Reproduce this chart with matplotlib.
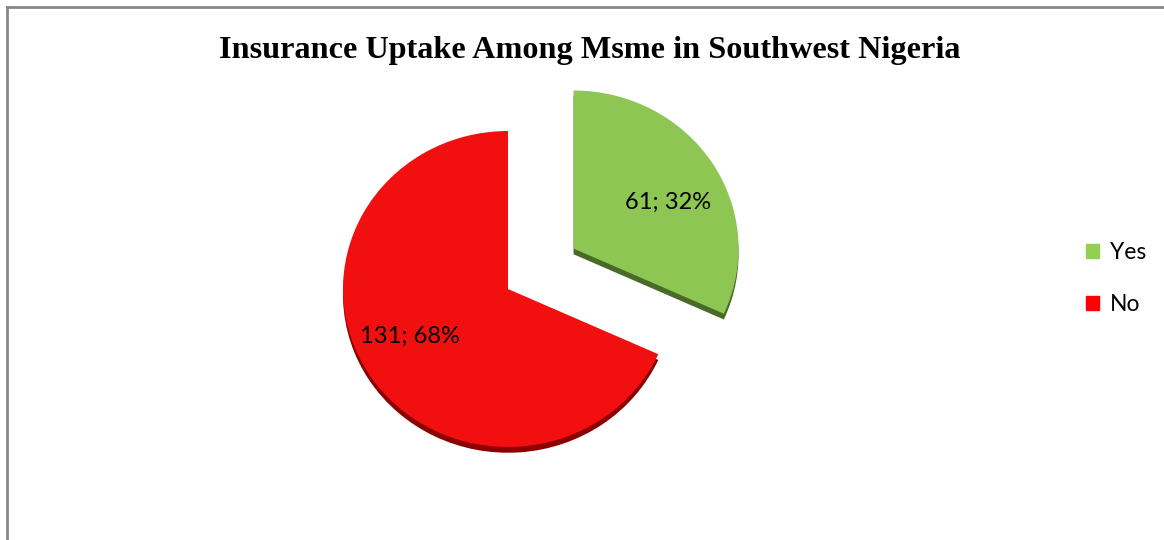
import matplotlib
matplotlib.use("Agg")
import matplotlib.pyplot as plt
from matplotlib.patches import Patch
from matplotlib.lines import Line2D

# data
labels = ["Yes", "No"]
counts = [61, 131]
colors = ["#8DC653", "#F20F0F"]
edge_colors = ["#4A6B28", "#8B0000"]
legend_colors = ["#92D050", "#FF0000"]
title = "Insurance Uptake Among Msme in Southwest Nigeria"

total = sum(counts)

def fmt(pct):
    n = int(round(pct * total / 100.0))
    return f"{n}; {pct:.0f}%"

fig = plt.figure(figsize=(11.64, 5.40), dpi=100)
ax = fig.add_axes([0, 0, 1, 1])
ax.axis("off")

# slight tilt like excel's 3d pie: a bit wider than tall
squash = 158 / 165
cx, cy, r = 508, (540 - 289) / squash, 165
explode = [78, 0]   # axis units

# darker copy shifted down for the 3d rim
ax.pie(counts, colors=edge_colors, startangle=90, counterclock=False,
       explode=explode, radius=r, center=(cx, cy - 6), frame=False,
       wedgeprops=dict(linewidth=0))
_, _, autotexts = ax.pie(counts, colors=colors, startangle=90, counterclock=False,
                         explode=explode, radius=r, center=(cx, cy), frame=False,
                         autopct=fmt, pctdistance=0.64,
                         textprops=dict(fontsize=17, family="Lato", color="black"),
                         wedgeprops=dict(linewidth=0))
# small nudges so the labels sit where Excel put them
nudges = [(6, -9), (-9, 8)]
for t, (dx, dy) in zip(autotexts, nudges):
    x, y = t.get_position()
    t.set_position((x + dx, y + dy))

ax.set_aspect("auto")
ax.set_xlim(0, 1164)
ax.set_ylim(0, 540 / squash)
ax.axis("off")

fig.text(0.507, 0.907, title, ha="center", va="center",
         fontsize=23.2, fontweight="bold", family="Liberation Serif")

handles = [Patch(color=c, label=l) for c, l in zip(legend_colors, labels)]
fig.legend(handles=handles, loc="center left", bbox_to_anchor=(0.915, 0.484),
           frameon=False, handlelength=0.6, handleheight=0.6,
           handletextpad=0.45, labelspacing=1.35,
           prop=dict(family="Lato", size=16.5))

# chart border (left and top visible)
fig.add_artist(Line2D([7/1164, 7/1164], [0, 1 - 7/540], color="#888888", lw=2))
fig.add_artist(Line2D([7/1164, 1], [1 - 7/540, 1 - 7/540], color="#888888", lw=2))

fig.savefig("out.png", dpi=100)
